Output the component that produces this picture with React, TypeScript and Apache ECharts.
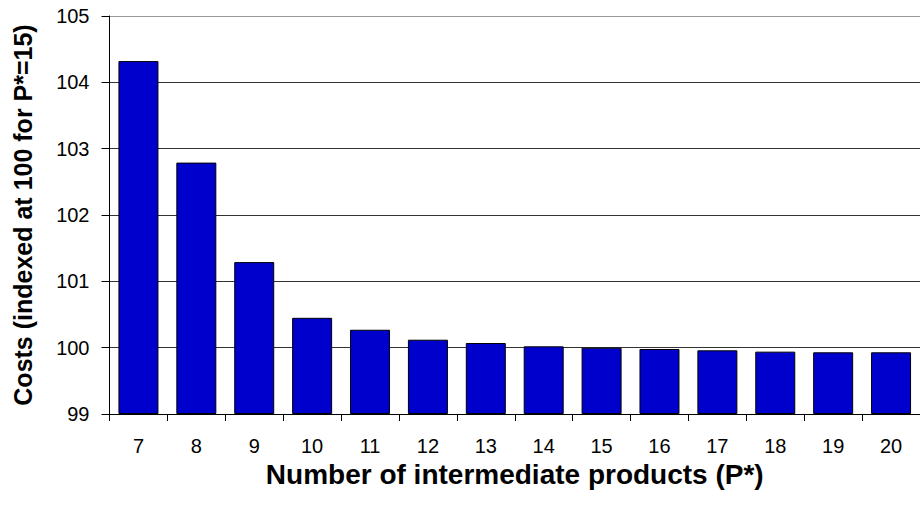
import React, { useEffect, useRef } from "react";
import * as echarts from "echarts";

const categories = ["7", "8", "9", "10", "11", "12", "13", "14", "15", "16", "17", "18", "19", "20"];
const costs = [104.32, 102.79, 101.29, 100.45, 100.27, 100.12, 100.07, 100.02, 100.0, 99.98, 99.96, 99.94, 99.93, 99.93];
const yMin = 99;
const yMax = 105;
const yInterval = 1;
const xTitle = "Number of intermediate products (P*)";
const yTitle = "Costs (indexed at 100 for P*=15)";

const FONT = "'Liberation Sans', Arial, sans-serif";

export default function App() {
  const ref = useRef<HTMLDivElement>(null);
  useEffect(() => {
    if (!ref.current) return;
    const chart = echarts.init(ref.current, undefined, { renderer: "svg" });
    chart.setOption({
      animation: false,
      backgroundColor: "#fff",
      grid: { left: 109.5, right: -4, top: 16, bottom: 93, containLabel: false },
      xAxis: {
        type: "category",
        data: categories,
        name: xTitle,
        nameLocation: "middle",
        nameGap: 60,
        nameTextStyle: { fontFamily: FONT, fontSize: 28, fontWeight: "bold", color: "#000", verticalAlign: "middle" },
        axisLine: { lineStyle: { color: "#000", width: 1 } },
        axisTick: { show: true, length: 7, lineStyle: { color: "#000" } },
        axisLabel: { fontFamily: FONT, fontSize: 20, color: "#000", margin: 22 },
        splitLine: { show: false },
      },
      yAxis: {
        type: "value",
        min: yMin,
        max: yMax,
        interval: yInterval,
        startValue: yMin,
        name: yTitle,
        nameLocation: "middle",
        nameGap: 87,
        nameRotate: 90,
        nameTextStyle: { fontFamily: FONT, fontSize: 25, fontWeight: "bold", color: "#000", verticalAlign: "middle" },
        axisLine: { show: true, lineStyle: { color: "#000", width: 1 } },
        axisTick: { show: true, length: 8, lineStyle: { color: "#000" } },
        axisLabel: { fontFamily: FONT, fontSize: 20, color: "#000", margin: 20 },
        splitLine: {
          show: true,
          lineStyle: { color: ["#000", "#333", "#333", "#333", "#333", "#333", "#999"], width: 1 },
        },
      },
      series: [
        {
          type: "bar",
          data: costs,
          barWidth: 40,
          clip: true,
          itemStyle: { color: "#0000CD", borderColor: "#000", borderWidth: 1 },
        },
      ],
    });
    return () => chart.dispose();
  }, []);
  return <div ref={ref} style={{ width: 920, height: 507, position: "absolute", left: 0, top: 0 }} />;
}
